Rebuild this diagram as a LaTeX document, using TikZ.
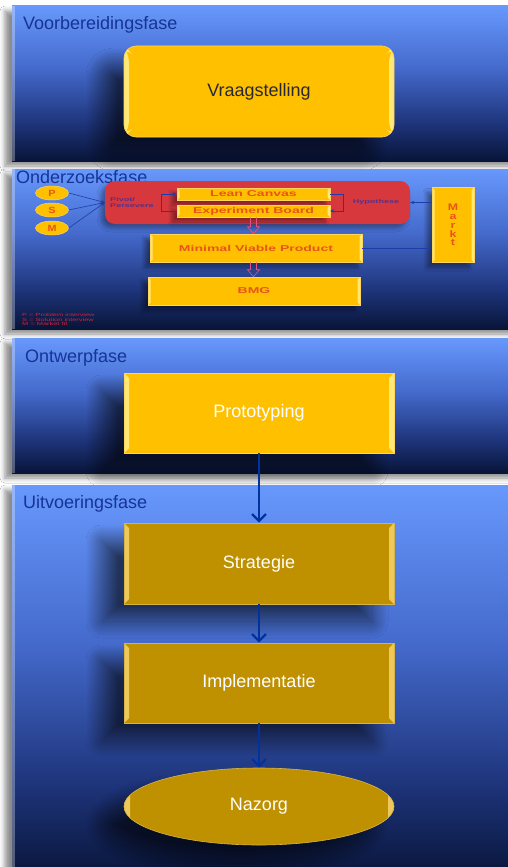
\documentclass[tikz,border=0pt]{standalone}
\usepackage{fontspec}
\setmainfont{Liberation Sans}
\usepackage{graphicx}
\usetikzlibrary{shapes.geometric,shadows.blur,calc,arrows.meta}

% colours
\definecolor{panellight}{RGB}{104,152,252}
\definecolor{panelmid}{RGB}{68,106,204}
\definecolor{paneldeep}{RGB}{30,52,122}
\definecolor{paneldark}{RGB}{8,20,56}
\definecolor{phaseblue}{RGB}{22,52,150}
\definecolor{amber}{RGB}{255,192,0}
\definecolor{amberlight}{RGB}{255,232,120}
\definecolor{amberedge}{RGB}{255,214,90}
\definecolor{gold}{RGB}{191,144,0}
\definecolor{goldlight}{RGB}{238,200,90}
\definecolor{goldedge}{RGB}{215,180,70}
\definecolor{orangetext}{RGB}{232,84,24}
\definecolor{redzone}{RGB}{214,56,62}
\definecolor{flowblue}{RGB}{0,50,160}
\definecolor{thinblue}{RGB}{30,60,170}
\definecolor{labelpurple}{RGB}{85,50,140}
\definecolor{pinkline}{RGB}{228,84,128}
\definecolor{legendred}{RGB}{215,35,55}
\definecolor{darktext}{RGB}{40,40,52}

% panel background: light blue at the top fading to navy at the bottom
\pgfdeclareverticalshading{panelgrad}{100bp}{color(0bp)=(paneldark); color(25bp)=(paneldark);
  color(37bp)=(paneldeep); color(55bp)=(panelmid); color(75bp)=(panellight); color(100bp)=(panellight)}

\newcommand\stretchtxt[2][1.65]{\scalebox{#1}[1]{#2}}

\tikzset{
  panel/.style={rectangle, inner sep=0pt, minimum width=510pt, shade, shading=panelgrad,
    blur shadow={shadow xshift=-7pt, shadow yshift=-5pt, shadow blur radius=5pt, shadow opacity=45},
    path picture={\fill[white,opacity=.3] (path picture bounding box.north west)
      rectangle ([xshift=3pt]path picture bounding box.south west);}},
  phasetitle/.style={anchor=base west, inner sep=0pt, text=phaseblue, font=\fontsize{18}{20}\selectfont},
  bevel/.style 2 args={path picture={
    \fill[#1] (path picture bounding box.north west) -- ([xshift=#2,yshift=-#2]path picture bounding box.north west)
      -- ([xshift=#2,yshift=#2]path picture bounding box.south west) -- (path picture bounding box.south west) -- cycle;
    \fill[#1] (path picture bounding box.north east) -- ([xshift=-#2,yshift=-#2]path picture bounding box.north east)
      -- ([xshift=-#2,yshift=#2]path picture bounding box.south east) -- (path picture bounding box.south east) -- cycle;}},
  stagebox/.style={rectangle, inner sep=0pt, minimum width=270pt, minimum height=80pt, line width=.6pt,
    font=\fontsize{18}{20}\selectfont, text=white,
    blur shadow={shadow xshift=-22pt, shadow yshift=-18pt, shadow blur radius=16pt, shadow blur steps=48,
      shadow opacity=60}},
  amberbox/.style={stagebox, fill=amber, draw=amberedge, bevel={amberlight}{5pt}},
  goldbox/.style={stagebox, fill=gold, draw=goldedge, bevel={goldlight}{5pt}},
  smallbox/.style={rectangle, inner sep=0pt, fill=amber, draw=amberedge, line width=.5pt,
    text=orangetext, font=\bfseries\fontsize{8.5}{9}\selectfont, bevel={amberlight}{2.5pt},
    blur shadow={shadow xshift=-5pt, shadow yshift=-5pt, shadow blur radius=4pt, shadow blur steps=16, shadow opacity=40}},
  psm/.style={ellipse, inner sep=0pt, minimum width=33pt, minimum height=14pt, fill=amber,
    draw=amberedge, line width=.5pt, text=orangetext, font=\bfseries\fontsize{9}{9}\selectfont},
  tinylabel/.style={inner sep=0pt, text=labelpurple, font=\bfseries\fontsize{5.5}{6}\selectfont},
  thinarrow/.style={draw=thinblue, line width=.6pt, -{Stealth[length=4pt,width=3.5pt]}},
  hollowarrow/.style={draw=pinkline, line width=.6pt, line join=miter},
  flow/.style={draw=flowblue, line width=2.4pt, -{Straight Barb[length=7pt,width=14pt]}},
}

\begin{document}
\begin{tikzpicture}[x=1pt,y=-1pt]
\useasboundingbox (0,0) rectangle (508,867);
\clip (0,0) rectangle (508,867);
\fill[white] (0,0) rectangle (508,867);

% ---------------- Voorbereidingsfase
\node[panel, minimum height=155pt] (panel1) at (267,83.5) {};
\node[phasetitle] (title1) at (23,30) {Voorbereidingsfase};
\node[amberbox, rounded corners=12pt, minimum height=91pt, text=darktext] (vraag) at (259,91.5) {Vraagstelling};

% ---------------- Onderzoeksfase
\node[panel, minimum height=160pt] (panel2) at (267,249) {};
\node[phasetitle] (title2) at (16,183) {Onderzoeksfase};

\node[psm] (P) at (52,193) {\stretchtxt[1.2]{P}};
\node[psm] (S) at (52,210) {\stretchtxt[1.2]{S}};
\node[psm] (M) at (52,228) {\stretchtxt[1.2]{M}};

\node[rectangle, rounded corners=10pt, fill=redzone, minimum width=305pt, minimum height=43pt, inner sep=0pt,
  blur shadow={shadow xshift=-4pt, shadow yshift=-4pt, shadow blur radius=4pt, shadow opacity=35}] (red) at (257.5,202.5) {};
\node[tinylabel, anchor=west, align=left] (pivot) at (110,203) {\stretchtxt{Pivot/}\\\stretchtxt{Persevere}};
\node[tinylabel] (hyp) at (376,202) {\stretchtxt{Hypothese}};

\node[smallbox, minimum width=153pt, minimum height=12pt] (lc) at (253.5,194) {\stretchtxt{Lean Canvas}};
\node[smallbox, minimum width=153pt, minimum height=12pt] (eb) at (253.5,211) {\stretchtxt{Experiment Board}};
\node[smallbox, minimum width=212pt, minimum height=28pt] (mvp) at (256,248) {\stretchtxt{Minimal Viable Product}};
\node[smallbox, minimum width=212pt, minimum height=28pt] (bmg) at (254,291) {\stretchtxt{BMG}};
\node[smallbox, minimum width=42pt, minimum height=75pt, align=center, font=\bfseries\fontsize{9.5}{8.8}\selectfont] (markt) at (453,225)
  {\stretchtxt[1.3]{M}\\\stretchtxt[1.3]{a}\\\stretchtxt[1.3]{r}\\\stretchtxt[1.3]{k}\\\stretchtxt[1.3]{t}};

\node[anchor=north west, align=left, inner sep=0pt, text=legendred, font=\fontsize{4.5}{4.2}\selectfont] (legend) at (22,313.5)
  {\stretchtxt{P = Problem interview}\\\stretchtxt{S = Solution interview}\\\stretchtxt{M = Market fit}};

\draw[thinarrow] (P.east) -- (red.west);
\draw[thinarrow] (S.east) -- (red.west);
\draw[thinarrow] (M.east) -- (red.west);
\draw[thinarrow] (eb.west) -- ++(-15,0) |- (lc.west);
\draw[thinarrow] (lc.east) -- ++(13,0) |- (eb.east);
\draw[thinarrow] (markt.west |- red.east) -- (red.east);
\draw[thinarrow] (mvp.east) -- (mvp.east -| markt.west);

% hollow block arrows down the research column
\draw[hollowarrow] ($(eb.south)+(-3,0)$) -- ($(eb.south |- mvp.north)+(-3,-7)$) -- ($(eb.south |- mvp.north)+(-6,-7)$)
  -- (eb.south |- mvp.north) -- ($(eb.south |- mvp.north)+(6,-7)$) -- ($(eb.south |- mvp.north)+(3,-7)$) -- ($(eb.south)+(3,0)$);
\draw[hollowarrow] ($(mvp.south -| eb.south)+(-3,0)$) -- ($(bmg.north -| eb.south)+(-3,-7)$) -- ($(bmg.north -| eb.south)+(-6,-7)$)
  -- (bmg.north -| eb.south) -- ($(bmg.north -| eb.south)+(6,-7)$) -- ($(bmg.north -| eb.south)+(3,-7)$) -- ($(mvp.south -| eb.south)+(3,0)$);

% ---------------- Ontwerpfase
\node[panel, minimum height=135pt] (panel3) at (267,405.5) {};
\node[phasetitle] (title3) at (25,362) {Ontwerpfase};
\node[amberbox] (proto) at (259,413) {Prototyping};

% ---------------- Uitvoeringsfase
\node[panel, minimum height=395pt] (panel4) at (267,682.5) {};
\node[phasetitle] (title4) at (23,508) {Uitvoeringsfase};
\node[goldbox, minimum height=81pt] (strat) at (259,563.5) {Strategie};
\node[goldbox] (impl) at (259,683) {Implementatie};
\node[stagebox, ellipse, minimum height=77pt, fill=gold, draw=goldedge, bevel={goldlight}{6pt}] (nazorg) at (259,806.5) {Nazorg};

% flow between the stages
\draw[flow] (proto.south) -- (strat.north);
\draw[flow] (strat.south) -- (impl.north);
\draw[flow] (impl.south) -- (nazorg.north);
\end{tikzpicture}
\end{document}
